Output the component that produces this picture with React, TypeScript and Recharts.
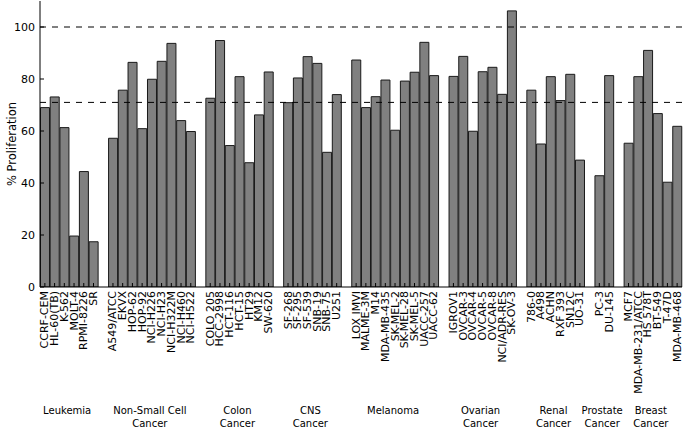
import { BarChart, Bar, XAxis, YAxis, ReferenceLine } from "recharts";

// NCI-60 cell lines, in panel order
const cellLines = [
  "CCRF-CEM", "HL-60(TB)", "K-562", "MOLT-4", "RPMI-8226", "SR",
  "A549/ATCC", "EKVX", "HOP-62", "HOP-92", "NCI-H226", "NCI-H23", "NCI-H322M", "NCI-H460", "NCI-H522",
  "COLO 205", "HCC-2998", "HCT-116", "HCT-15", "HT29", "KM12", "SW-620",
  "SF-268", "SF-295", "SF-539", "SNB-19", "SNB-75", "U251",
  "LOX IMVI", "MALME-3M", "M14", "MDA-MB-435", "SK-MEL-2", "SK-MEL-28", "SK-MEL-5", "UACC-257", "UACC-62",
  "IGROV1", "OVCAR-3", "OVCAR-4", "OVCAR-5", "OVCAR-8", "NCI/ADR-RES", "SK-OV-3",
  "786-0", "A498", "ACHN", "RXF 393", "SN12C", "UO-31",
  "PC-3", "DU-145",
  "MCF7", "MDA-MB-231/ATCC", "HS 578T", "BT-549", "T-47D", "MDA-MB-468",
];

const proliferation = [
  69.0, 73.1, 61.3, 19.6, 44.4, 17.4,
  57.2, 75.7, 86.4, 60.9, 79.9, 86.8, 93.7, 64.0, 59.8,
  72.6, 94.8, 54.4, 80.9, 47.8, 66.2, 82.7,
  70.9, 80.4, 88.6, 86.0, 51.8, 74.0,
  87.3, 69.0, 73.2, 79.6, 60.3, 79.2, 82.6, 94.1, 81.3,
  81.0, 88.7, 59.9, 82.8, 84.5, 74.1, 106.2,
  75.7, 55.0, 80.9, 71.7, 81.8, 48.8,
  42.8, 81.3,
  55.3, 80.9, 91.0, 66.7, 40.3, 61.8,
];

const groupLabels = [
  ["Leukemia"],
  ["Non-Small Cell", "Cancer"],
  ["Colon", "Cancer"],
  ["CNS", "Cancer"],
  ["Melanoma"],
  ["Ovarian", "Cancer"],
  ["Renal", "Cancer"],
  ["Prostate", "Cancer"],
  ["Breast", "Cancer"],
];
const groupSizes = [6, 9, 7, 6, 9, 7, 6, 2, 6];

const yTicks = [0, 20, 40, 60, 80, 100];
const refLines = [100, 71];

const W = 683;
const H = 429;
const LEFT = 40;
const RIGHT = 1;
const FONT = "DejaVu Sans";

// build rows with an empty slot between panels
const rows: { name: string; value: number | null }[] = [];
const groupStart: Record<string, number> = {};
let k = 0;
groupSizes.forEach((n, g) => {
  if (g > 0) rows.push({ name: `gap${g}`, value: null });
  groupStart[cellLines[k]] = g;
  for (let i = 0; i < n; i++, k++) rows.push({ name: cellLines[k], value: proliferation[k] });
});
const slot = (W - LEFT - RIGHT) / rows.length;

const BottomTick = (props: any) => {
  const { x, y, payload } = props;
  const name: string = payload.value;
  if (name.startsWith("gap")) return <g />;
  const g = groupStart[name];
  return (
    <g>
      <line x1={x} x2={x} y1={y} y2={y - 4} stroke="#000" />
      <text
        transform={`translate(${x},${y + 4}) rotate(-90)`}
        textAnchor="end"
        dominantBaseline="central"
        fontSize={11}
        fontFamily={FONT}
        fill="#000"
      >
        {name}
      </text>
      {g !== undefined &&
        groupLabels[g].map((line, i) => (
          <text
            key={i}
            x={x + ((groupSizes[g] - 1) / 2) * slot - 2}
            y={413.5 + i * 13.5}
            textAnchor="middle"
            fontSize={10}
            fontFamily={FONT}
            fill="#000"
          >
            {line}
          </text>
        ))}
    </g>
  );
};

const TopTick = (props: any) => {
  const { x, y, payload } = props;
  if (String(payload.value).startsWith("gap")) return <g />;
  return <line x1={x} x2={x} y1={y} y2={y + 4} stroke="#000" />;
};

const LeftTick = (props: any) => {
  const { x, y, payload } = props;
  return (
    <g>
      <line x1={x} x2={x + 4} y1={y} y2={y} stroke="#000" />
      <text x={x - 5} y={y} textAnchor="end" dominantBaseline="central" fontSize={11} fontFamily={FONT} fill="#000">
        {payload.value}
      </text>
    </g>
  );
};

const RightTick = (props: any) => {
  const { x, y } = props;
  return <line x1={x} x2={x - 4} y1={y} y2={y} stroke="#000" />;
};

const YLabel = (props: any) => {
  const vb = props.viewBox;
  const cy = vb.y + vb.height / 2;
  return (
    <text
      transform={`translate(12,${cy}) rotate(-90)`}
      textAnchor="middle"
      dominantBaseline="central"
      fontSize={11.5}
      fontFamily={FONT}
      fill="#000"
    >
      % Proliferation
    </text>
  );
};

export default function App() {
  return (
    <div>
      <style>{"body{margin:0;background:#fff}"}</style>
      <BarChart
        width={W}
        height={H}
        data={rows}
        margin={{ top: 1, right: RIGHT, bottom: 0, left: 0 }}
        barCategoryGap="5%"
        style={{ fontFamily: FONT }}
      >
        <XAxis
          dataKey="name"
          xAxisId="b"
          orientation="bottom"
          height={142}
          interval={0}
          tickSize={0}
          tickMargin={0}
          tickLine={false}
          axisLine={{ stroke: "#000" }}
          tick={<BottomTick />}
        />
        <XAxis
          dataKey="name"
          xAxisId="t"
          orientation="top"
          height={0}
          interval={0}
          tickSize={0}
          tickMargin={0}
          tickLine={false}
          axisLine={{ stroke: "#000" }}
          tick={<TopTick />}
        />
        <YAxis
          yAxisId="l"
          width={LEFT}
          domain={[0, 110]}
          ticks={yTicks}
          interval={0}
          allowDataOverflow
          tickSize={0}
          tickMargin={0}
          tickLine={false}
          axisLine={{ stroke: "#000" }}
          tick={<LeftTick />}
          label={<YLabel />}
        />
        <YAxis
          yAxisId="r"
          orientation="right"
          width={0}
          domain={[0, 110]}
          ticks={yTicks}
          interval={0}
          allowDataOverflow
          tickSize={0}
          tickMargin={0}
          tickLine={false}
          axisLine={{ stroke: "#000" }}
          tick={<RightTick />}
        />
        <Bar
          dataKey="value"
          xAxisId="b"
          yAxisId="l"
          fill="#808080"
          stroke="#1a1a1a"
          strokeWidth={1}
          isAnimationActive={false}
        />
        {refLines.map((v) => (
          <ReferenceLine
            key={v}
            y={v}
            xAxisId="b"
            yAxisId="l"
            stroke="#000"
            strokeDasharray="6 6"
            strokeWidth={1}
          />
        ))}
      </BarChart>
    </div>
  );
}
